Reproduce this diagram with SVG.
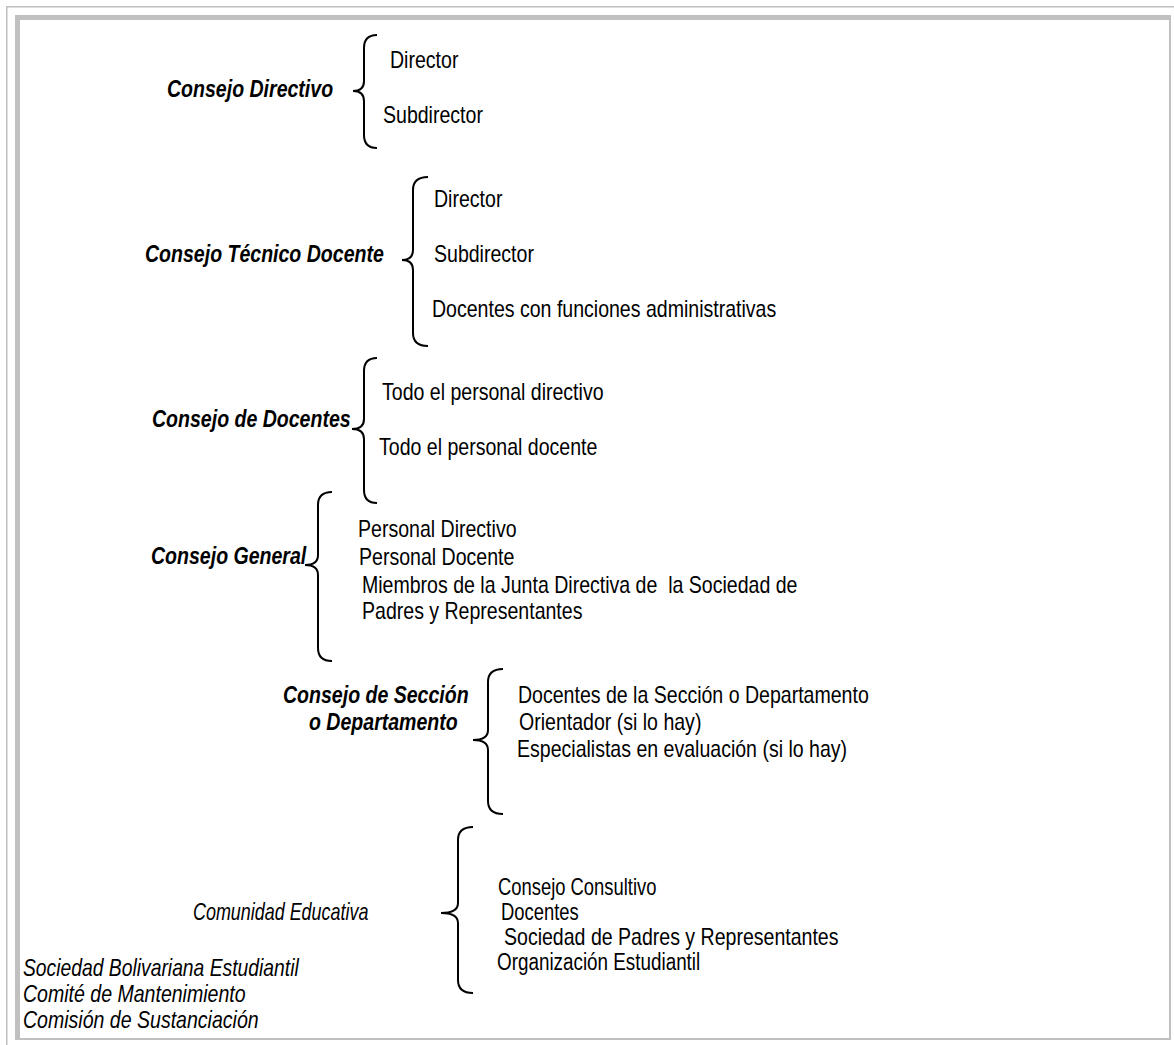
<svg xmlns="http://www.w3.org/2000/svg" width="1174" height="1045" viewBox="0 0 1174 1045">
<style>
.t{font-family:"Liberation Sans",Arial,sans-serif;font-size:23px;fill:#000}
.h{font-family:"Liberation Sans",Arial,sans-serif;font-size:23px;font-style:italic;font-weight:bold;fill:#000}
.i{font-family:"Liberation Sans",Arial,sans-serif;font-size:23px;font-style:italic;fill:#000}
.b{fill:none;stroke:#000;stroke-width:2}
.f{fill:#c0c0c0}
</style>
<rect width="1174" height="1045" fill="#fff"/>
<g id="frame">
<rect class="f" x="6" y="6" width="1168" height="1.5"/>
<rect class="f" x="6" y="6" width="1.5" height="1039"/>
<rect class="f" x="15" y="15" width="1156" height="5"/>
<rect class="f" x="15" y="15" width="5" height="1025"/>
<rect class="f" x="1169" y="15" width="2" height="1025"/>
<rect class="f" x="15" y="1038" width="1156" height="2"/>
</g>
<g id="connectors">
<path class="b" d="M377,35 Q364,35 364,48 L364,81 Q364,91 353,91 Q364,91 364,101 L364,135 Q364,148 377,148"/>
<path class="b" d="M428,177 Q413,177 413,190 L413,250 Q413,260 402,260 Q413,260 413,270 L413,333 Q413,346 428,346"/>
<path class="b" d="M377,358 Q364,358 364,371 L364,419 Q364,429 352,429 Q364,429 364,439 L364,490 Q364,503 377,503"/>
<path class="b" d="M332,492 Q318,492 318,505 L318,555 Q318,565 305,565 Q318,565 318,575 L318,648 Q318,661 332,661"/>
<path class="b" d="M503,669 Q488,669 488,682 L488,730 Q488,740 473,740 Q488,740 488,750 L488,801 Q488,814 503,814"/>
<path class="b" d="M473,827 Q458,827 458,840 L458,903 Q458,913 441,913 Q458,913 458,923 L458,980 Q458,993 473,993"/>
</g>
<g id="consejo-directivo">
<text class="h" transform="translate(167,97) scale(.85,1)">Consejo Directivo</text>
<text class="t" transform="translate(390,68) scale(.85,1)">Director</text>
<text class="t" transform="translate(383,123) scale(.85,1)">Subdirector</text>
</g>
<g id="consejo-tecnico-docente">
<text class="h" transform="translate(145,262) scale(.85,1)">Consejo Técnico Docente</text>
<text class="t" transform="translate(434,207) scale(.85,1)">Director</text>
<text class="t" transform="translate(434,262) scale(.85,1)">Subdirector</text>
<text class="t" transform="translate(432,317) scale(.85,1)">Docentes con funciones administrativas</text>
</g>
<g id="consejo-de-docentes">
<text class="h" transform="translate(152,427) scale(.85,1)">Consejo de Docentes</text>
<text class="t" transform="translate(382,400) scale(.85,1)">Todo el personal directivo</text>
<text class="t" transform="translate(379,455) scale(.85,1)">Todo el personal docente</text>
</g>
<g id="consejo-general">
<text class="h" transform="translate(151,564) scale(.85,1)">Consejo General</text>
<text class="t" transform="translate(358,537) scale(.85,1)">Personal Directivo</text>
<text class="t" transform="translate(359,565) scale(.85,1)">Personal Docente</text>
<text class="t" transform="translate(362,593) scale(.85,1)" xml:space="preserve">Miembros de la Junta Directiva de  la Sociedad de</text>
<text class="t" transform="translate(362,619) scale(.85,1)">Padres y Representantes</text>
</g>
<g id="consejo-de-seccion">
<text class="h" transform="translate(283,703) scale(.85,1)">Consejo de Sección</text>
<text class="h" transform="translate(309,730) scale(.85,1)">o Departamento</text>
<text class="t" transform="translate(518,703) scale(.85,1)">Docentes de la Sección o Departamento</text>
<text class="t" transform="translate(519,730) scale(.85,1)">Orientador (si lo hay)</text>
<text class="t" transform="translate(517,757) scale(.85,1)">Especialistas en evaluación (si lo hay)</text>
</g>
<g id="comunidad-educativa">
<text class="i" transform="translate(193,920) scale(.78,1)">Comunidad Educativa</text>
<text class="t" transform="translate(498,895) scale(.8,1)">Consejo Consultivo</text>
<text class="t" transform="translate(501,920) scale(.8,1)">Docentes</text>
<text class="t" transform="translate(504,945) scale(.85,1)">Sociedad de Padres y Representantes</text>
<text class="t" transform="translate(497,970) scale(.82,1)">Organización Estudiantil</text>
</g>
<g id="otros">
<text class="i" transform="translate(23,976) scale(.84,1)">Sociedad Bolivariana Estudiantil</text>
<text class="i" transform="translate(23,1002) scale(.85,1)">Comité de Mantenimiento</text>
<text class="i" transform="translate(23,1028) scale(.85,1)">Comisión de Sustanciación</text>
</g>
</svg>
